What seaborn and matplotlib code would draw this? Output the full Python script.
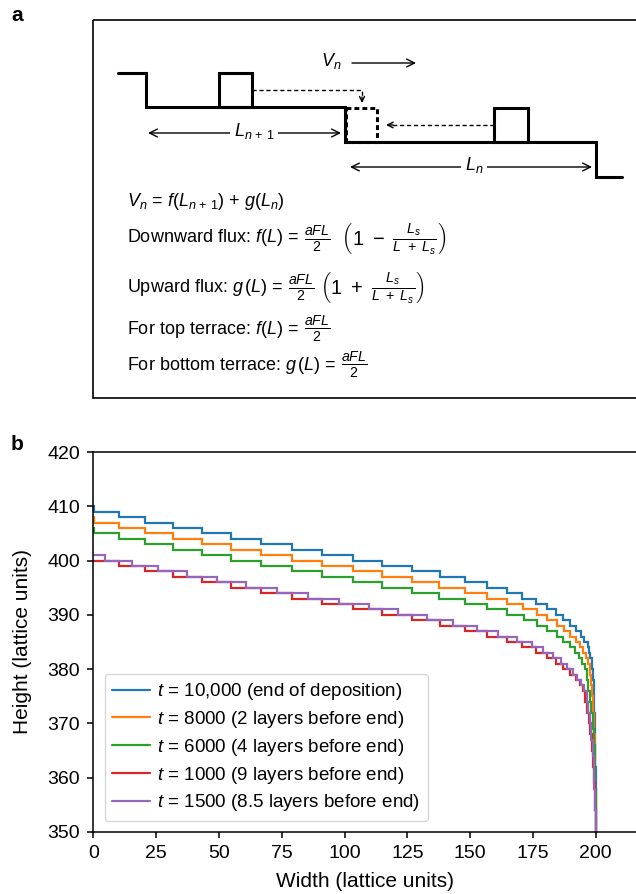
import matplotlib
matplotlib.use("Agg")
import matplotlib.pyplot as plt
import pandas as pd
import seaborn as sns
from matplotlib.patches import Rectangle

# ---------------- data ----------------
series_labels = [
    "$t$ = 10,000 (end of deposition)",
    "$t$ = 8000 (2 layers before end)",
    "$t$ = 6000 (4 layers before end)",
    "$t$ = 1000 (9 layers before end)",
    "$t$ = 1500 (8.5 layers before end)",
]
series_colors = ["#1f77b4", "#ff7f0e", "#2ca02c", "#d62728", "#9467bd"]

# x position where each height level starts (steps-post), and the height level
blue_x = [0, 0.4, 10.4, 20.6, 31.6, 43.1, 55.0, 66.8, 79.0, 91.2, 103.3, 115.1,
          126.8, 137.8, 147.8, 156.6, 164.5, 170.8, 176.1, 180.5, 184.2, 187.1,
          189.8, 192.0, 194.0, 195.5, 196.7, 197.3, 197.8, 198.3, 198.7, 199.1,
          199.4, 199.6, 199.8, 200.0]
blue_h = [410, 409, 408, 407, 406, 405, 404, 403, 402, 401, 400, 399,
          398, 397, 396, 395, 394, 393, 392, 391, 390, 389,
          388, 387, 386, 385, 384, 383, 382, 380, 378, 375,
          372, 368, 362, 350]

orange_x = [0, 0.4, 10.4, 20.6, 31.6, 43.1, 55.0, 66.8, 79.0, 91.2, 103.3, 115.1,
            126.8, 137.7, 148.0, 156.6, 164.6, 171.2, 176.5, 180.5, 184.5, 187.5,
            189.8, 192.0, 193.8, 195.1, 196.1, 196.9, 197.5, 198.0, 198.5, 198.9,
            199.3, 199.6, 199.8, 200.0]
orange_h = [408, 407, 406, 405, 404, 403, 402, 401, 400, 399, 398, 397,
            396, 395, 394, 393, 392, 391, 390, 389, 388, 387,
            386, 385, 384, 383, 382, 381, 379, 377, 375, 372,
            368, 364, 358, 350]

green_x = [0, 0.4, 10.4, 20.6, 31.6, 43.1, 55.0, 66.8, 79.0, 91.2, 103.3, 115.1,
           126.8, 137.4, 148.0, 156.6, 164.6, 171.4, 176.5, 180.5, 184.5, 187.1,
           189.8, 191.7, 193.4, 194.7, 195.6, 196.3, 197.0, 197.6, 198.2, 198.7,
           199.1, 199.5, 199.7, 199.9, 200.0]
green_h = [406, 405, 404, 403, 402, 401, 400, 399, 398, 397, 396, 395,
           394, 393, 392, 391, 390, 389, 388, 387, 386, 385,
           384, 383, 382, 381, 380, 378, 376, 374, 372, 369,
           366, 362, 358, 355, 350]

red_x = [0, 10.4, 20.6, 31.6, 43.1, 55.0, 66.8, 79.0, 91.2, 103.3, 115.1,
         126.8, 137.9, 147.8, 156.6, 164.5, 170.8, 176.1, 180.5, 184.2, 187.1,
         189.8, 192.0, 193.6, 194.8, 195.7, 196.5, 197.1, 197.7, 198.3, 198.8,
         199.2, 199.5, 199.7, 199.9, 200.0]
red_h = [400, 399, 398, 397, 396, 395, 394, 393, 392, 391, 390,
         389, 388, 387, 386, 385, 384, 383, 382, 381, 380,
         379, 378, 377, 376, 374, 372, 370, 368, 365, 362,
         359, 356, 354, 352, 350]

purple_x = [0, 4.6, 15.3, 25.9, 37.2, 49.1, 60.8, 73.0, 85.3, 97.8, 109.8, 121.4,
            132.7, 143.3, 152.6, 161.2, 168.5, 174.5, 179.1, 183.1, 186.2, 188.7,
            190.8, 192.7, 194.2, 195.4, 196.3, 197.0, 197.6, 198.2, 198.7, 199.1,
            199.4, 199.6, 199.8, 199.9, 200.0]
purple_h = [401, 400, 399, 398, 397, 396, 395, 394, 393, 392, 391, 390,
            389, 388, 387, 386, 385, 384, 383, 382, 381, 380,
            379, 378, 377, 376, 374, 372, 370, 367, 364, 361,
            358, 356, 354, 352, 350]

x_ticks = [0, 25, 50, 75, 100, 125, 150, 175, 200]
y_ticks = [350, 360, 370, 380, 390, 400, 410, 420]

# ---------------- style ----------------
sns.set_style("ticks", rc={"axes.edgecolor": "black", "text.color": "black",
                           "axes.labelcolor": "black", "xtick.color": "black",
                           "ytick.color": "black"})
plt.rcParams["font.family"] = ["Liberation Sans", "DejaVu Sans"]
plt.rcParams["mathtext.fontset"] = "custom"
plt.rcParams["mathtext.rm"] = "Liberation Sans"
plt.rcParams["mathtext.it"] = "Liberation Sans:italic"
plt.rcParams["mathtext.bf"] = "Liberation Sans:bold"

W, H = 636, 894
fig = plt.figure(figsize=(W / 100, H / 100), dpi=100)
renderer = fig.canvas.get_renderer()

# ---------------- panel a (schematic, in pixel coordinates) ----------------
ov = fig.add_axes([0, 0, 1, 1])
ov.set_xlim(0, W)
ov.set_ylim(H, 0)
ov.axis("off")
ov.patch.set_visible(False)

ov.add_patch(Rectangle((93, 20), 700, 378, fill=False, lw=1.2, ec="black"))
ov.plot([118, 146, 146, 345, 345, 596, 596, 622],
        [73, 73, 107, 107, 142, 142, 177, 177], color="black", lw=2.2,
        solid_joinstyle="miter")
ov.add_patch(Rectangle((219, 73), 33, 34, fill=False, lw=2.2, ec="black"))
ov.add_patch(Rectangle((494, 108), 34, 34, fill=False, lw=2.2, ec="black"))
ov.add_patch(Rectangle((346, 108), 31, 34, fill=False, lw=2.2, ec="black",
                       ls=(0, (1.6, 1.0))))
# dashed paths of adatoms
ov.plot([252, 362, 362], [90, 90, 100], color="black", lw=1.0, ls=(0, (3, 2)))
ov.annotate("", xy=(362, 103), xytext=(362, 97),
            arrowprops=dict(arrowstyle="->", lw=1.0, color="black",
                            shrinkA=0, shrinkB=0, mutation_scale=9))
ov.plot([494, 390], [125, 125], color="black", lw=1.0, ls=(0, (3, 2)))
ov.annotate("", xy=(386, 125), xytext=(393, 125),
            arrowprops=dict(arrowstyle="->", lw=1.0, color="black",
                            shrinkA=0, shrinkB=0, mutation_scale=10))
# V_n arrow
ov.text(331, 61, "$V_n$", fontsize=13, ha="center", va="center")
ov.annotate("", xy=(416, 63), xytext=(352, 63),
            arrowprops=dict(arrowstyle="->", lw=1.0, color="black",
                            shrinkA=0, shrinkB=0, mutation_scale=14))
# terrace widths
ov.annotate("", xy=(148, 133), xytext=(341, 133),
            arrowprops=dict(arrowstyle="<->", lw=1.0, color="black",
                            shrinkA=0, shrinkB=0, mutation_scale=14))
ov.text(254, 131, r"$L_{n\,+\,1}$", fontsize=13, ha="center", va="center",
        bbox=dict(fc="white", ec="none", pad=3))
ov.annotate("", xy=(350, 167), xytext=(592, 167),
            arrowprops=dict(arrowstyle="<->", lw=1.0, color="black",
                            shrinkA=0, shrinkB=0, mutation_scale=14))
ov.text(474, 165, "$L_n$", fontsize=13, ha="center", va="center",
        bbox=dict(fc="white", ec="none", pad=3))

ov.text(127, 202, r"$V_n$ = $f(L_{n\,+\,1})$ + $g(L_n)$", fontsize=13,
        ha="left", va="center")

eq_lines = [
    (238, r"Downward flux: $f(L)$ = ",
     r"$\frac{aFL}{2}\ \ \left(1\ -\ \frac{L_s}{L\ +\ L_s}\right)$"),
    (287, r"Upward flux: $g\,(L)$ = ",
     r"$\frac{aFL}{2}\ \left(1\ +\ \frac{L_s}{L\ +\ L_s}\right)$"),
    (329, r"For top terrace: $f(L)$ = ", r"$\frac{aFL}{2}$"),
    (365, r"For bottom terrace: $g\,(L)$ = ", r"$\frac{aFL}{2}$"),
]
for yy, lead, frac in eq_lines:
    t = ov.text(127, yy, lead, fontsize=13, ha="left", va="center")
    bb = t.get_window_extent(renderer=renderer)
    ov.text(bb.x1 + 4, yy, frac, fontsize=14.5, ha="left", va="center")

ov.text(11, 21, "a", fontsize=15, fontweight="bold", ha="left", va="baseline")
ov.text(11, 450, "b", fontsize=15, fontweight="bold", ha="left", va="baseline")

# ---------------- panel b (seaborn line chart) ----------------
ax = fig.add_axes([93.3 / W, 1 - 832 / H, (W - 93.3) / W, (832 - 452) / H])

frames = []
for lab, xs, hs in zip(series_labels,
                       [blue_x, orange_x, green_x, red_x, purple_x],
                       [blue_h, orange_h, green_h, red_h, purple_h]):
    frames.append(pd.DataFrame({"Width": xs, "Height": hs, "series": lab}))
df = pd.concat(frames, ignore_index=True)

sns.lineplot(data=df, x="Width", y="Height", hue="series",
             hue_order=series_labels, palette=series_colors,
             estimator=None, sort=False, drawstyle="steps-post",
             lw=1.6, solid_joinstyle="miter", legend=False, ax=ax)

ax.set_xlim(0, 216)
ax.set_ylim(350, 420)
ax.set_xticks(x_ticks)
ax.set_yticks(y_ticks)
ax.spines["right"].set_visible(False)
for s in ["left", "bottom", "top"]:
    ax.spines[s].set_linewidth(1.1)
ax.tick_params(labelsize=14, length=4.5, width=1.1, direction="out",
               top=False, right=False, pad=5)
ax.set_xlabel("Width (lattice units)", fontsize=15, labelpad=7)
ax.set_ylabel("Height (lattice units)", fontsize=15, labelpad=11)

ax.legend(ax.get_lines(), series_labels, loc="lower left", fontsize=13.5,
          frameon=True, fancybox=True, edgecolor="0.8", framealpha=0.8,
          handlelength=2.0, handletextpad=0.4, labelspacing=0.36,
          borderaxespad=0.6)

fig.savefig("out.png", dpi=100)
